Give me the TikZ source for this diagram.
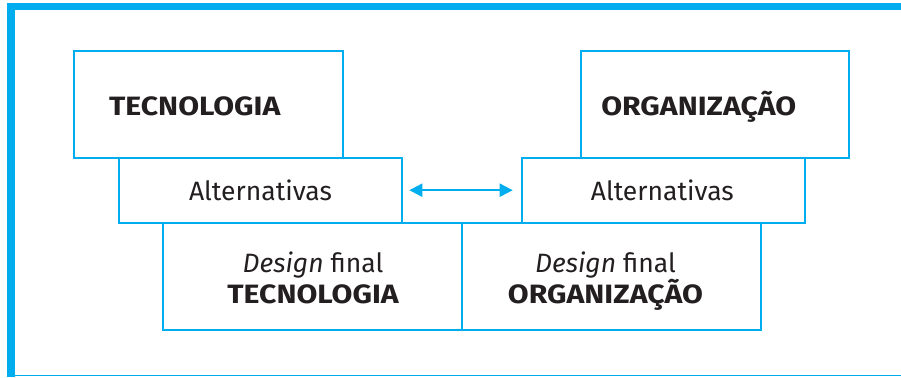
\documentclass[tikz,border=0pt]{standalone}
\usepackage{fontspec}
\setmainfont{Fira Sans}
\newfontfamily\widebold{Fira Sans}[FakeStretch=1.14]
\usetikzlibrary{arrows.meta}
\definecolor{cyanb}{HTML}{00AEEF}
\definecolor{ink}{HTML}{231F20}
\tikzset{
  box/.style={draw=cyanb, line width=1.8pt, inner sep=0pt, outer sep=0pt, anchor=north west},
  txt/.style={text=ink, inner sep=0pt, font=\fontsize{26.5}{31}\selectfont},
  btxt/.style={txt, font=\widebold\fontsize{26.5}{31}\selectfont\bfseries},
  arr/.style={draw=cyanb, line width=2.2pt, {Triangle[length=13pt,width=13pt]}-{Triangle[length=13pt,width=13pt]}}
}
\begin{document}
\begin{tikzpicture}[x=1pt,y=-1pt]
\useasboundingbox (0,0) rectangle (901,377);
% frame
\fill[cyanb] (7,3) rectangle (14.5,377);
\fill[cyanb] (7,3) rectangle (901,10);
\fill[cyanb] (7,374.5) rectangle (901,376);
% boxes
\node[box, minimum width=268.7pt, minimum height=107pt] (tec) at (74,50.7) {};
\node[box, minimum width=267.7pt, minimum height=107pt] (org) at (581,50.7) {};
\node[box, minimum width=283pt, minimum height=65pt] (altL) at (119.3,157.7) {};
\node[box, minimum width=283.3pt, minimum height=65pt] (altR) at (521.7,157.7) {};
\node[box, minimum width=298.4pt, minimum height=107.3pt] (desL) at (163.3,222.7) {};
\node[box, minimum width=299pt, minimum height=107.3pt] (desR) at (461.7,222.7) {};
% texts
\node[btxt, anchor=base] (tecT) at (194.7,115) {TECNOLOGIA};
\node[btxt, anchor=base] (orgT) at (698.8,115) {ORGANIZAÇÃO};
\node[txt, anchor=base] (altLT) at (260.5,200) {Alternativas};
\node[txt, anchor=base] (altRT) at (662.3,200) {Alternativas};
\node[txt, anchor=base] (desL1) at (313,272.3) {\textit{Design} final};
\node[btxt, anchor=base] (desL2) at (313,303.3) {TECNOLOGIA};
\node[txt, anchor=base] (desR1) at (605.5,272.3) {\textit{Design} final};
\node[btxt, anchor=base] (desR2) at (605.5,303.3) {ORGANIZAÇÃO};
% arrow
\draw[arr, shorten <=7pt, shorten >=9pt] (altL) -- (altR);
\end{tikzpicture}
\end{document}
